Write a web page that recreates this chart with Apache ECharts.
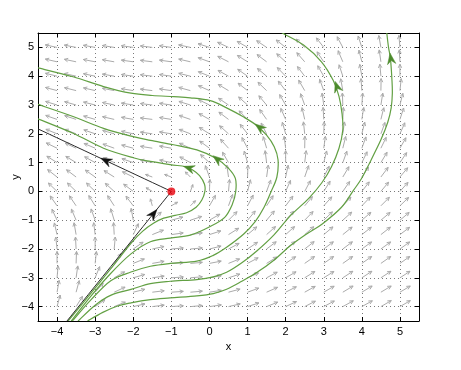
<!DOCTYPE html>
<html><head><meta charset="utf-8">
<script src="https://cdn.jsdelivr.net/npm/echarts@6/dist/echarts.min.js"></script>
<style>html,body{margin:0;padding:0;background:#fff}#c{width:461px;height:370px}</style>
</head><body><div id="c"></div>
<script>
// axis tick values
const xTicks = [-4, -3, -2, -1, 0, 1, 2, 3, 4, 5];
const yTicks = [-4, -3, -2, -1, 0, 1, 2, 3, 4, 5];

// direction field grid (angles in degrees as seen on screen, counter-clockwise from +x)
const fieldX = [-4, -3.5, -3, -2.5, -2, -1.5, -1, -0.5, 0, 0.5, 1, 1.5, 2, 2.5, 3, 3.5, 4, 4.5, 5];
const fieldY = [5, 4.5, 4, 3.5, 3, 2.5, 2, 1.5, 1, 0.5, 0, -0.5, -1, -1.5, -2, -2.5, -3, -3.5, -4];
const fieldAngle = [
  [168,169,170,171,172,173,172,168,162,155,150,146,142,136,128,118,108,100,95],
  [167,168,169,170,172,173,172,167,160,153,148,143,138,131,124,113,104,98,93],
  [166,167,168,170,172,173,172,166,158,151,145,140,134,127,120,108,100,95,90],
  [165,166,167,169,171,173,172,165,156,149,142,136,128,120,110,100,94,89,84],
  [163,164,166,168,171,173,172,163,154,146,138,130,120,110,98,92,86,81,76],
  [161,162,164,167,170,173,171,161,151,143,135,125,114,103,93,87,81,76,72],
  [158,159,161,164,168,172,171,159,148,138,128,117,106,96,88,82,76,70,66],
  [154,155,157,160,165,171,170,156,144,132,118,106,97,89,82,76,70,64,60],
  [148,149,151,155,161,168,168,152,138,120,106,97,90,83,76,70,64,59,56],
  [142,143,145,148,154,160,160,135,110,98,88,82,78,71,63,59,56,53,50],
  [136,136,136,138,143,150,null,70,88,85,76,70,66,62,58,55,52,50,48],
  [125,124,122,123,127,105,30,45,60,70,62,57,53,50,48,47,46,45,44],
  [115,113,110,107,100,42,15,18,30,45,50,50,48,46,44,42,41,40,40],
  [103,100,97,93,65,22,8,8,18,32,40,42,42,41,40,39,38,38,37],
  [96,93,90,85,35,12,5,5,14,28,34,37,38,38,37,37,36,36,36],
  [90,88,84,55,22,10,4,5,11,22,28,32,34,35,35,35,35,35,35],
  [85,82,68,30,16,8,4,5,10,18,24,28,30,32,32,33,33,33,33],
  [80,75,48,25,14,7,4,5,9,15,20,24,27,29,30,31,31,31,31],
  [75,58,35,22,13,7,4,5,8,13,18,22,25,27,28,29,29,30,30]
];
// grid points whose arrows are drawn shorter (next to the equilibrium)
const shortArrows = [[-1.5,0],[-0.5,0],[-1,0.5],[-1,-0.5],[-1.5,0.5],[-0.5,0.5],[-1.5,-0.5],[-0.5,-0.5]];

// separatrices (black)
const separatrixOut = [[-1, 0], [-4.5, 2.17]];
const separatrixIn = [[-3.74, -4.5], [-1, 0]];

// trajectories (green)
const traj1 = [[-3.71,-4.5],[-3.2,-3.68],[-2.6,-2.7],[-2.06,-1.8],[-1.75,-1.38],[-1.46,-1.1],[-1.2,-0.93],[-0.9,-0.83],[-0.6,-0.74],[-0.35,-0.55],[-0.2,-0.3],[-0.12,0],[-0.13,0.25],[-0.26,0.55],[-0.45,0.75],[-0.63,0.86],[-1.03,0.93],[-1.55,1.04],[-2.0,1.17],[-2.78,1.5],[-3.58,2.02],[-4.5,2.52]];
const traj2 = [[-3.63,-4.5],[-3.1,-3.62],[-2.6,-2.86],[-2.06,-2.17],[-1.55,-1.75],[-1.03,-1.62],[-0.5,-1.52],[0.02,-1.22],[0.4,-0.9],[0.6,-0.45],[0.69,0],[0.68,0.45],[0.5,0.8],[0.17,1.15],[-0.33,1.44],[-0.94,1.62],[-1.55,1.77],[-2.0,1.9],[-2.78,2.19],[-3.58,2.6],[-4.5,3.02]];
const traj3 = [[-3.6,-4.5],[-3.1,-3.75],[-2.59,-3.1],[-2.06,-2.8],[-1.55,-2.6],[-1.03,-2.5],[-0.33,-2.42],[0.1,-2.22],[0.45,-1.94],[0.9,-1.48],[1.2,-1.05],[1.43,-0.56],[1.62,0],[1.77,0.5],[1.8,1.1],[1.7,1.55],[1.5,1.95],[1.23,2.3],[0.9,2.58],[0.45,2.9],[0.02,3.15],[-0.5,3.25],[-0.94,3.29],[-1.5,3.33],[-2.06,3.41],[-2.78,3.64],[-3.58,3.98],[-4.5,4.29]];
const traj4 = [[-3.45,-4.5],[-3.0,-3.95],[-2.58,-3.6],[-2.06,-3.4],[-1.55,-3.2],[-1.03,-3.12],[-0.33,-3.06],[0.1,-2.97],[0.45,-2.81],[0.85,-2.48],[1.25,-2.06],[1.7,-1.5],[2.12,-0.85],[2.6,-0.25],[2.95,0.3],[3.2,0.85],[3.4,1.5],[3.5,2.13],[3.48,2.7],[3.4,3.3],[3.25,3.85],[2.94,4.5],[2.47,5.08],[1.97,5.46],[1.85,5.55]];
const traj5 = [[-3.2,-4.5],[-2.8,-4.2],[-2.41,-3.98],[-2.06,-3.87],[-1.55,-3.76],[-1.03,-3.7],[-0.33,-3.63],[0.1,-3.55],[0.45,-3.4],[0.85,-3.12],[1.25,-2.81],[1.7,-2.38],[2.12,-1.89],[2.55,-1.48],[2.97,-1.12],[3.46,-0.56],[3.77,0.02],[3.98,0.42],[4.2,0.98],[4.5,1.79],[4.68,2.4],[4.77,2.9],[4.8,3.4],[4.79,3.87],[4.75,4.62],[4.7,5.0],[4.65,5.55]];
const trajectories = [traj1, traj2, traj3, traj4, traj5];

// arrowheads: [tipX, tipY, backX, backY]
const greenArrowHeads = [[-0.68,0.87,-0.42,0.76],[0.09,1.24,0.3,1.02],[1.2,2.34,1.45,2.08],[3.3,3.82,3.38,3.5],[4.74,4.8,4.78,4.45]];
const blackArrowHeads = [[-2.85,1.15,-2.5,0.93],[-1.38,-0.63,-1.6,-0.99]];
const equilibrium = [[-1, 0]];

const fieldData = [];
fieldY.forEach((y, i) => {
  fieldX.forEach((x, j) => {
    const a = fieldAngle[i][j];
    if (a === null) return;
    const isShort = shortArrows.some(p => p[0] === x && p[1] === y);
    fieldData.push([x, y, a, isShort ? 0.6 : 1]);
  });
});

function renderField(params, api) {
  const p = api.coord([api.value(0), api.value(1)]);
  const a = api.value(2) * Math.PI / 180;
  const s = api.value(3);
  const L = 12 * s;
  const hx = p[0] + L * Math.cos(a), hy = p[1] - L * Math.sin(a);
  const hb = 4 * Math.max(s, 0.75), d = 0.45;
  const b1 = [hx - hb * Math.cos(a + d), hy + hb * Math.sin(a + d)];
  const b2 = [hx - hb * Math.cos(a - d), hy + hb * Math.sin(a - d)];
  const st = { stroke: '#ababab', lineWidth: 1, fill: null };
  return { type: 'group', children: [
    { type: 'line', shape: { x1: p[0], y1: p[1], x2: hx, y2: hy }, style: st },
    { type: 'polyline', shape: { points: [b1, [hx, hy], b2] }, style: st }
  ]};
}

// draws a trajectory through its read points as a Catmull-Rom curve
function makeCurveRenderer(pts, color, width) {
  return function (params, api) {
    if (params.dataIndex !== 0) return null;
    const P = pts.map(p => api.coord(p));
    let d = 'M' + P[0][0] + ' ' + P[0][1];
    for (let i = 0; i < P.length - 1; i++) {
      const p0 = P[Math.max(i - 1, 0)], p1 = P[i], p2 = P[i + 1], p3 = P[Math.min(i + 2, P.length - 1)];
      const c1 = [p1[0] + (p2[0] - p0[0]) / 6, p1[1] + (p2[1] - p0[1]) / 6];
      const c2 = [p2[0] - (p3[0] - p1[0]) / 6, p2[1] - (p3[1] - p1[1]) / 6];
      d += ' C' + c1[0] + ' ' + c1[1] + ' ' + c2[0] + ' ' + c2[1] + ' ' + p2[0] + ' ' + p2[1];
    }
    return { type: 'path', shape: { pathData: d }, style: { fill: null, stroke: color, lineWidth: width } };
  };
}

function makeHeadRenderer(color) {
  return function (params, api) {
    const t = api.coord([api.value(0), api.value(1)]);
    const b = api.coord([api.value(2), api.value(3)]);
    let dx = t[0] - b[0], dy = t[1] - b[1];
    const n = Math.hypot(dx, dy) || 1; dx /= n; dy /= n;
    const L = 11, W = 4.2;
    const bx = t[0] - dx * L, by = t[1] - dy * L;
    const pts = [
      t,
      [bx - dy * W, by + dx * W],
      [t[0] - dx * L * 0.68, t[1] - dy * L * 0.68],
      [bx + dy * W, by - dx * W]
    ];
    return { type: 'polygon', shape: { points: pts }, style: { fill: color, stroke: color, lineWidth: 0.5 } };
  };
}

const fmt = v => {
  if (Math.abs(v - Math.round(v)) > 1e-9) return '';
  const r = Math.round(v);
  return r < 0 ? '\u2212' + Math.abs(r) : String(r);
};
const font = 'Liberation Sans';
const axisBase = {
  type: 'value', min: -4.5, max: 5.5, splitNumber: 10, minInterval: 1, maxInterval: 1,
  axisLine: { show: true, onZero: false, lineStyle: { color: '#000', width: 1 } },
  axisTick: { show: true, inside: true, length: 4, lineStyle: { color: '#000', width: 1 } }
};

const series = [
  { type: 'custom', renderItem: renderField, data: fieldData, encode: { x: 0, y: 1 }, silent: true, z: 1, clip: true }
];
trajectories.forEach(t => series.push({
  type: 'custom', renderItem: makeCurveRenderer(t, '#62a043', 1.2), data: t, encode: { x: 0, y: 1 }, silent: true, z: 3, clip: true
}));
series.push({ type: 'custom', renderItem: makeCurveRenderer(separatrixOut, '#2b2b2b', 1), data: separatrixOut, encode: { x: 0, y: 1 }, silent: true, z: 4, clip: true });
series.push({ type: 'custom', renderItem: makeCurveRenderer(separatrixIn, '#2b2b2b', 1), data: separatrixIn, encode: { x: 0, y: 1 }, silent: true, z: 4, clip: true });
series.push({ type: 'custom', renderItem: makeHeadRenderer('#4c8a2c'), data: greenArrowHeads, encode: { x: [0, 2], y: [1, 3] }, silent: true, z: 5 });
series.push({ type: 'custom', renderItem: makeHeadRenderer('#111'), data: blackArrowHeads, encode: { x: [0, 2], y: [1, 3] }, silent: true, z: 5 });
series.push({ type: 'scatter', data: equilibrium, symbol: 'circle', symbolSize: 8, itemStyle: { color: '#e8000b' }, silent: true, z: 6 });

const chart = echarts.init(document.getElementById('c'), null, { renderer: 'canvas' });
chart.setOption({
  animation: false,
  backgroundColor: '#fff',
  grid: { left: 38, top: 33, right: 42, bottom: 49, containLabel: false, outerBoundsMode: 'none' },
  xAxis: [
    Object.assign({}, axisBase, {
      position: 'bottom', name: 'x', nameLocation: 'middle', nameGap: 15,
      nameTextStyle: { fontFamily: font, fontSize: 11, color: '#000' },
      axisLabel: { show: true, formatter: fmt, fontFamily: font, fontSize: 11, color: '#000', margin: 5, showMinLabel: true, showMaxLabel: true },
      splitLine: { show: true, lineStyle: { color: '#7a7a7a', width: 1, type: [1, 3] } }
    }),
    Object.assign({}, axisBase, {
      position: 'top', axisLabel: { show: false }, splitLine: { show: false }
    })
  ],
  yAxis: [
    Object.assign({}, axisBase, {
      position: 'left', name: 'y', nameLocation: 'middle', nameGap: 17, nameRotate: 90, nameMoveOverlap: false,
      nameTextStyle: { fontFamily: font, fontSize: 11, color: '#000' },
      axisLabel: { show: true, formatter: fmt, fontFamily: font, fontSize: 11, color: '#000', margin: 4 },
      splitLine: { show: true, lineStyle: { color: '#7a7a7a', width: 1, type: [1, 3] } }
    }),
    Object.assign({}, axisBase, {
      position: 'right', axisLabel: { show: false }, splitLine: { show: false }
    })
  ],
  series: series
});
</script>
</body></html>
